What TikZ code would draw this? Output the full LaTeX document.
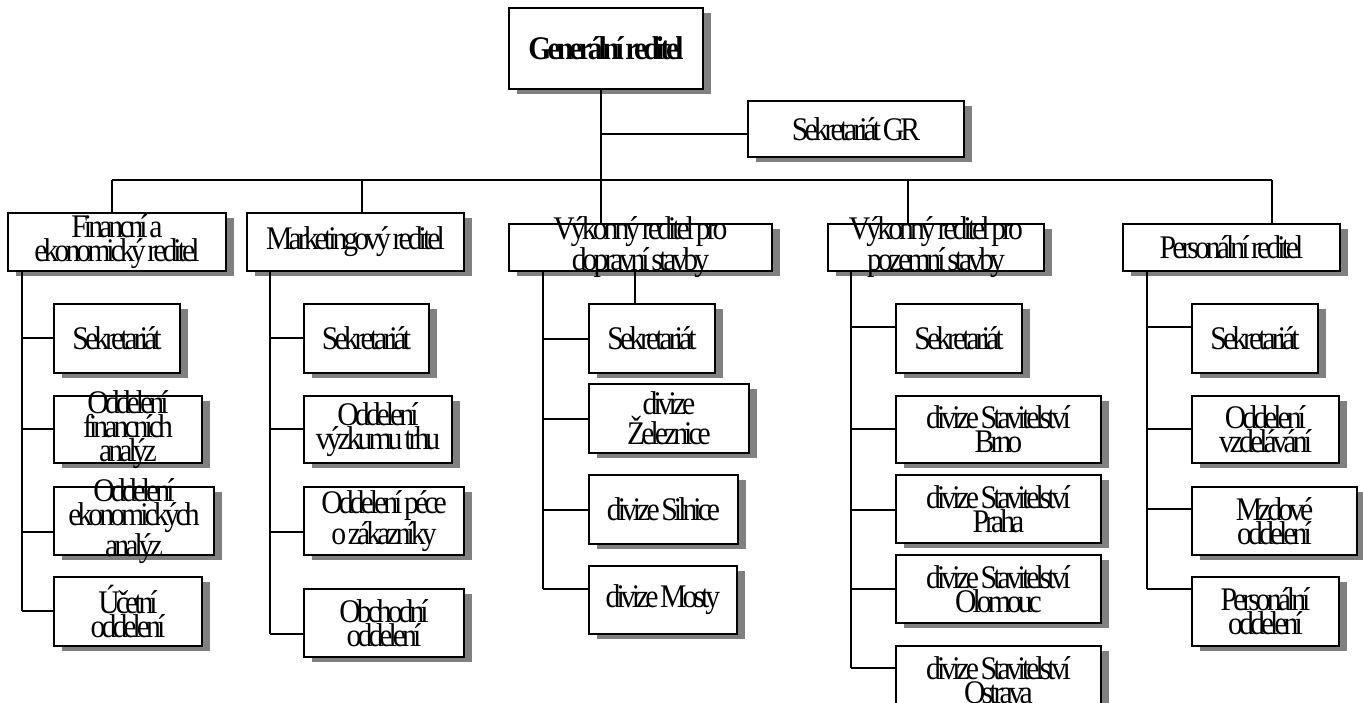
\documentclass[tikz,border=0pt]{standalone}
\usepackage{fontspec}
\setmainfont{Liberation Serif}[FakeStretch=0.9,LetterSpace=-12,WordSpace=0.5]
\usetikzlibrary{shadows}
\newcommand\orgfont{\fontsize{33}{24}\selectfont}
\tikzset{
  orgbox/.style={draw=black, line width=2pt, fill=white, inner sep=0pt,
    drop shadow={shadow xshift=8pt, shadow yshift=-5pt, fill=black!50, opacity=1, draw=none}},
  orgtext/.style={inner sep=0pt, align=center, font=\orgfont},
  link/.style={draw=black, line width=2pt},
}
\newcommand\mkbox[6]{%
  \node[orgbox, minimum width={#4-#2}, minimum height={#5-#3}] (#1) at ({(#2+#4)/2},{(#3+#5)/2}) {};
  \node[orgtext] (#1-t) at (#1) {#6};}
\begin{document}
\begin{tikzpicture}[x=1pt,y=-1pt]
\useasboundingbox (0,0) rectangle (1363,702);
% top level
\mkbox{gr}{509}{8}{703}{89}{\bfseries Generální reditel}
\mkbox{sgr}{748}{101}{964}{157}{Sekretariát GR}
\mkbox{fin}{8}{213}{226}{271}{Financní a\\ekonomický reditel}
\mkbox{mkt}{247}{213}{464}{271}{Marketingový reditel}
\mkbox{dop}{509}{224}{772}{271}{Výkonný reditel pro\\dopravní stavby}
\mkbox{poz}{828}{224}{1044}{271}{Výkonný reditel pro\\pozemní stavby}
\mkbox{per}{1123}{224}{1340}{271}{Personální reditel}
% finance
\mkbox{fs}{54}{304}{180}{373}{Sekretariát}
\mkbox{ffa}{54}{396}{202}{463}{Oddelení\\financních\\analýz}
\mkbox{fea}{54}{487}{214}{555}{Oddelení\\ekonomických\\analýz}
\mkbox{fu}{54}{577}{202}{646}{Účetní\\oddelení}
% marketing
\mkbox{ms}{304}{304}{429}{373}{Sekretariát}
\mkbox{mv}{304}{396}{452}{463}{Oddelení\\výzkumu trhu}
\mkbox{mp}{304}{487}{464}{555}{Oddelení péce\\o zákazníky}
\mkbox{mo}{304}{589}{464}{657}{Obchodní\\oddelení}
% doprava
\mkbox{ds}{589}{304}{715}{373}{Sekretariát}
\mkbox{dz}{589}{384}{749}{453}{divize\\Železnice}
\mkbox{dsi}{589}{475}{738}{544}{divize Silnice}
\mkbox{dm}{589}{566}{737}{634}{divize Mosty}
% pozemni
\mkbox{ps}{896}{304}{1022}{373}{Sekretariát}
\mkbox{pb}{896}{396}{1101}{463}{divize Stavitelství\\Brno}
\mkbox{pp}{896}{475}{1101}{543}{divize Stavitelství\\Praha}
\mkbox{po}{896}{555}{1101}{623}{divize Stavitelství\\Olomouc}
\mkbox{pos}{896}{646}{1101}{714}{divize Stavitelství\\Ostrava}
% personal
\mkbox{rs}{1192}{304}{1318}{373}{Sekretariát}
\mkbox{rv}{1192}{396}{1339}{463}{Oddelení\\vzdelávání}
\mkbox{rm}{1192}{487}{1357}{555}{Mzdové\\oddelení}
\mkbox{rp}{1192}{577}{1339}{646}{Personální\\oddelení}
% bus and trunk
\coordinate (busL) at (112,180);
\coordinate (busM) at (362,180);
\coordinate (trunk) at (601,180);
\coordinate (busP) at (908,180);
\coordinate (busR) at (1272,180);
\coordinate (sgrb) at (601,134);
\coordinate (dx) at (635,0);
\draw[link] (busL) -- (busR);
\draw[link] (gr.south -| trunk) -- (trunk |- dop.north);
\draw[link] (sgrb) -- (sgrb -| sgr.west);
\draw[link] (busL) -- (busL |- fin.north);
\draw[link] (busM) -- (busM |- mkt.north);
\draw[link] (busP) -- (busP |- poz.north);
\draw[link] (busR) -- (busR |- per.north);
\draw[link] (dx |- dop.south) -- (dx |- ds.north);
% finance branches
\coordinate (b-fs) at (22,338);
\coordinate (b-ffa) at (22,429);
\coordinate (b-fea) at (22,532);
\coordinate (b-fu) at (22,611);
\draw[link] (b-fu |- fin.south) -- (b-fu);
\foreach \n in {fs,ffa,fea,fu} \draw[link] (b-\n) -- (b-\n -| \n.west);
% marketing branches
\coordinate (b-ms) at (270,338);
\coordinate (b-mv) at (270,429);
\coordinate (b-mp) at (270,532);
\coordinate (b-mo) at (270,634);
\draw[link] (b-mo |- mkt.south) -- (b-mo);
\foreach \n in {ms,mv,mp,mo} \draw[link] (b-\n) -- (b-\n -| \n.west);
% doprava branches
\coordinate (b-ds) at (543,339);
\coordinate (b-dz) at (543,419);
\coordinate (b-dsi) at (543,510);
\coordinate (b-dm) at (543,589);
\draw[link] (b-dm |- dop.south) -- (b-dm);
\foreach \n in {ds,dz,dsi,dm} \draw[link] (b-\n) -- (b-\n -| \n.west);
% pozemni branches
\coordinate (b-ps) at (851,327);
\coordinate (b-pb) at (851,429);
\coordinate (b-pp) at (851,510);
\coordinate (b-po) at (851,589);
\coordinate (b-pos) at (851,668);
\draw[link] (b-pos |- poz.south) -- (b-pos);
\foreach \n in {ps,pb,pp,po,pos} \draw[link] (b-\n) -- (b-\n -| \n.west);
% personal branches
\coordinate (b-rs) at (1147,327);
\coordinate (b-rv) at (1147,429);
\coordinate (b-rm) at (1147,509);
\coordinate (b-rp) at (1147,589);
\draw[link] (b-rp |- per.south) -- (b-rp);
\foreach \n in {rs,rv,rm,rp} \draw[link] (b-\n) -- (b-\n -| \n.west);
\end{tikzpicture}
\end{document}
